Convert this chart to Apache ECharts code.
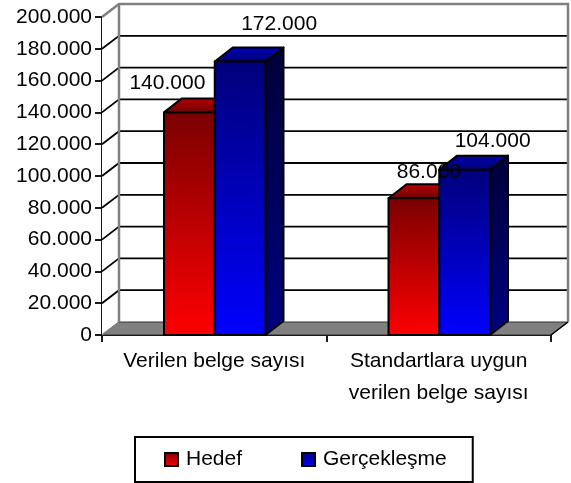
<!DOCTYPE html>
<html>
<head>
<meta charset="utf-8">
<style>html,body{margin:0;padding:0;background:#fff}#c{width:571px;height:483px}</style>
<script src="https://cdn.jsdelivr.net/npm/echarts@6/dist/echarts.min.js"></script>
</head>
<body>
<div id="c"></div>
<script>
const categories = ['Verilen belge sayısı', 'Standartlara uygun\nverilen belge sayısı'];
const hedef = [140000, 86000];
const gerceklesme = [172000, 104000];
const yTicks = [0, 20000, 40000, 60000, 80000, 100000, 120000, 140000, 160000, 180000, 200000];
const hedefLabelOffsets = [[-22, -29], [15, -26]];
const gercekLabelOffsets = [[39, -37], [28, -28]];

const FONT = '"Liberation Sans", Arial, sans-serif';
const WALL_DX = 17, WALL_DY = 13, BAR_DX = 18, BAR_DY = 14, BAR_RATIO = 0.226;
const grad = (a, b) => ({type:'linear', x:0, y:0, x2:0, y2:1, colorStops:[{offset:0,color:a},{offset:1,color:b}]});
const fmt = v => String(v).replace(/\B(?=(\d{3})+$)/g, '.');

function wallItem(params, api) {
  const v = api.value(1), p = api.coord([0, v]), cs = params.coordSys;
  const L = cs.x, R = cs.x + cs.width, T = cs.y, B = cs.y + cs.height, y = p[1];
  const ch = [];
  const gray = '#808080';
  if (v === 0) {
    ch.push({type:'polygon', z2:0, shape:{points:[[L,T],[L+WALL_DX,T-WALL_DY],[L+WALL_DX,B-WALL_DY],[L,B]]}, style:{fill:'#fff'}});
    ch.push({type:'polygon', z2:2, shape:{points:[[L,B],[L+WALL_DX,B-WALL_DY],[R+WALL_DX,B-WALL_DY],[R,B]]}, style:{fill:gray, stroke:'#333', lineWidth:1}});
    ch.push({type:'polyline', z2:3, shape:{points:[[L,T],[L+WALL_DX,T-WALL_DY],[R+WALL_DX,T-WALL_DY],[R+WALL_DX,B-WALL_DY]]}, style:{fill:null, stroke:gray, lineWidth:2.5}});
    ch.push({type:'line', z2:3, shape:{x1:L+WALL_DX,y1:T-WALL_DY,x2:L+WALL_DX,y2:B-WALL_DY}, style:{stroke:gray, lineWidth:2.5}});
    ch.push({type:'line', z2:4, shape:{x1:L,y1:B,x2:L+WALL_DX,y2:B-WALL_DY}, style:{stroke:gray, lineWidth:1.5}});
    ch.push({type:'line', z2:4, shape:{x1:R,y1:B,x2:R+WALL_DX,y2:B-WALL_DY}, style:{stroke:'#000', lineWidth:1.5}});
  } else if (v < yTicks[yTicks.length-1]) {
    ch.push({type:'polyline', z2:1, shape:{points:[[L,y],[L+WALL_DX,y-WALL_DY],[R+WALL_DX,y-WALL_DY]]}, style:{fill:null, stroke:'#000', lineWidth:1.8}});
  }
  return {type:'group', children:ch};
}

function barRenderer(offsetSign, barZ, front, side, top, offsets) {
  return function (params, api) {
    const cat = api.value(0), val = api.value(1);
    const p = api.coord([cat, val]), base = api.coord([cat, 0]);
    const w = api.size([1, 0])[0] * BAR_RATIO;
    const x0 = p[0] + (offsetSign < 0 ? -w : 0) + 0.5, x1 = x0 + w, yT = p[1], yB = base[1];
    const s = {stroke:'#000', lineWidth:2, lineJoin:'round'};
    const off = offsets[params.dataIndex];
    return {type:'group', children:[
      {type:'polygon', z2:barZ, shape:{points:[[x1,yT],[x1+BAR_DX,yT-BAR_DY],[x1+BAR_DX,yB-BAR_DY],[x1,yB]]}, style:Object.assign({fill:side}, s)},
      {type:'polygon', z2:barZ, shape:{points:[[x0,yT],[x0+BAR_DX,yT-BAR_DY],[x1+BAR_DX,yT-BAR_DY],[x1,yT]]}, style:Object.assign({fill:top}, s)},
      {type:'rect', z2:barZ, shape:{x:x0,y:yT,width:w,height:yB-yT}, style:Object.assign({fill:front}, s)},
      {type:'text', z2:100, x:(x0 + x1) / 2 + off[0], y:yT + off[1],
        style:{text:fmt(val), font:'21px '+FONT, fill:'#000', align:'center', verticalAlign:'middle'}}
    ]};
  };
}

const chart = echarts.init(document.getElementById('c'), null, {renderer:'canvas'});
chart.setOption({
  animation:false,
  backgroundColor:'#fff',
  grid:{left:102, top:17, width:449, height:318, containLabel:false},
  legend:{
    data:['Hedef','Gerçekleşme'], left:135, top:437,
    padding:[12,26,12,29], itemWidth:13, itemHeight:13, itemGap:59,
    borderColor:'#000', borderWidth:2, backgroundColor:'#fff', icon:'rect',
    textStyle:{fontFamily:FONT, fontSize:21, color:'#000', padding:[0,0,0,3]}
  },
  xAxis:{
    type:'category', data:categories,
    axisLine:{lineStyle:{color:'#000', width:1.8}},
    axisTick:{show:true, length:7, lineStyle:{color:'#000', width:1.8}},
    axisLabel:{interval:0, fontFamily:FONT, fontSize:21, color:'#000', margin:10, lineHeight:32}
  },
  yAxis:{
    type:'value', min:0, max:200000, interval:20000,
    axisLine:{show:true, lineStyle:{color:'#000', width:1.8}},
    axisTick:{show:true, length:7, lineStyle:{color:'#000', width:1.8}},
    splitLine:{show:false},
    axisLabel:{fontFamily:FONT, fontSize:21, color:'#000', margin:10, formatter:fmt}
  },
  series:[
    {type:'custom', name:'wall', silent:true, z:1, renderItem:wallItem, encode:{x:0,y:1},
      data:yTicks.map(v=>[0,v])},
    {type:'custom', name:'Hedef', z:2, encode:{x:0,y:1},
      itemStyle:{color:grad('#800000','#ff0000'), borderColor:'#000', borderWidth:1.5},
      renderItem:barRenderer(-1, 10, grad('#7a0000','#ff0000'), grad('#3a0000','#800000'), grad('#b80000','#700000'), hedefLabelOffsets),
      data:hedef.map((v,i)=>[i,v])},
    {type:'custom', name:'Gerçekleşme', z:2, encode:{x:0,y:1},
      itemStyle:{color:grad('#000080','#0000ff'), borderColor:'#000', borderWidth:1.5},
      renderItem:barRenderer(1, 11, grad('#00007a','#0000ff'), grad('#00003a','#000080'), grad('#0000b8','#000070'), gercekLabelOffsets),
      data:gerceklesme.map((v,i)=>[i,v])}
  ]
});
</script>
</body>
</html>
